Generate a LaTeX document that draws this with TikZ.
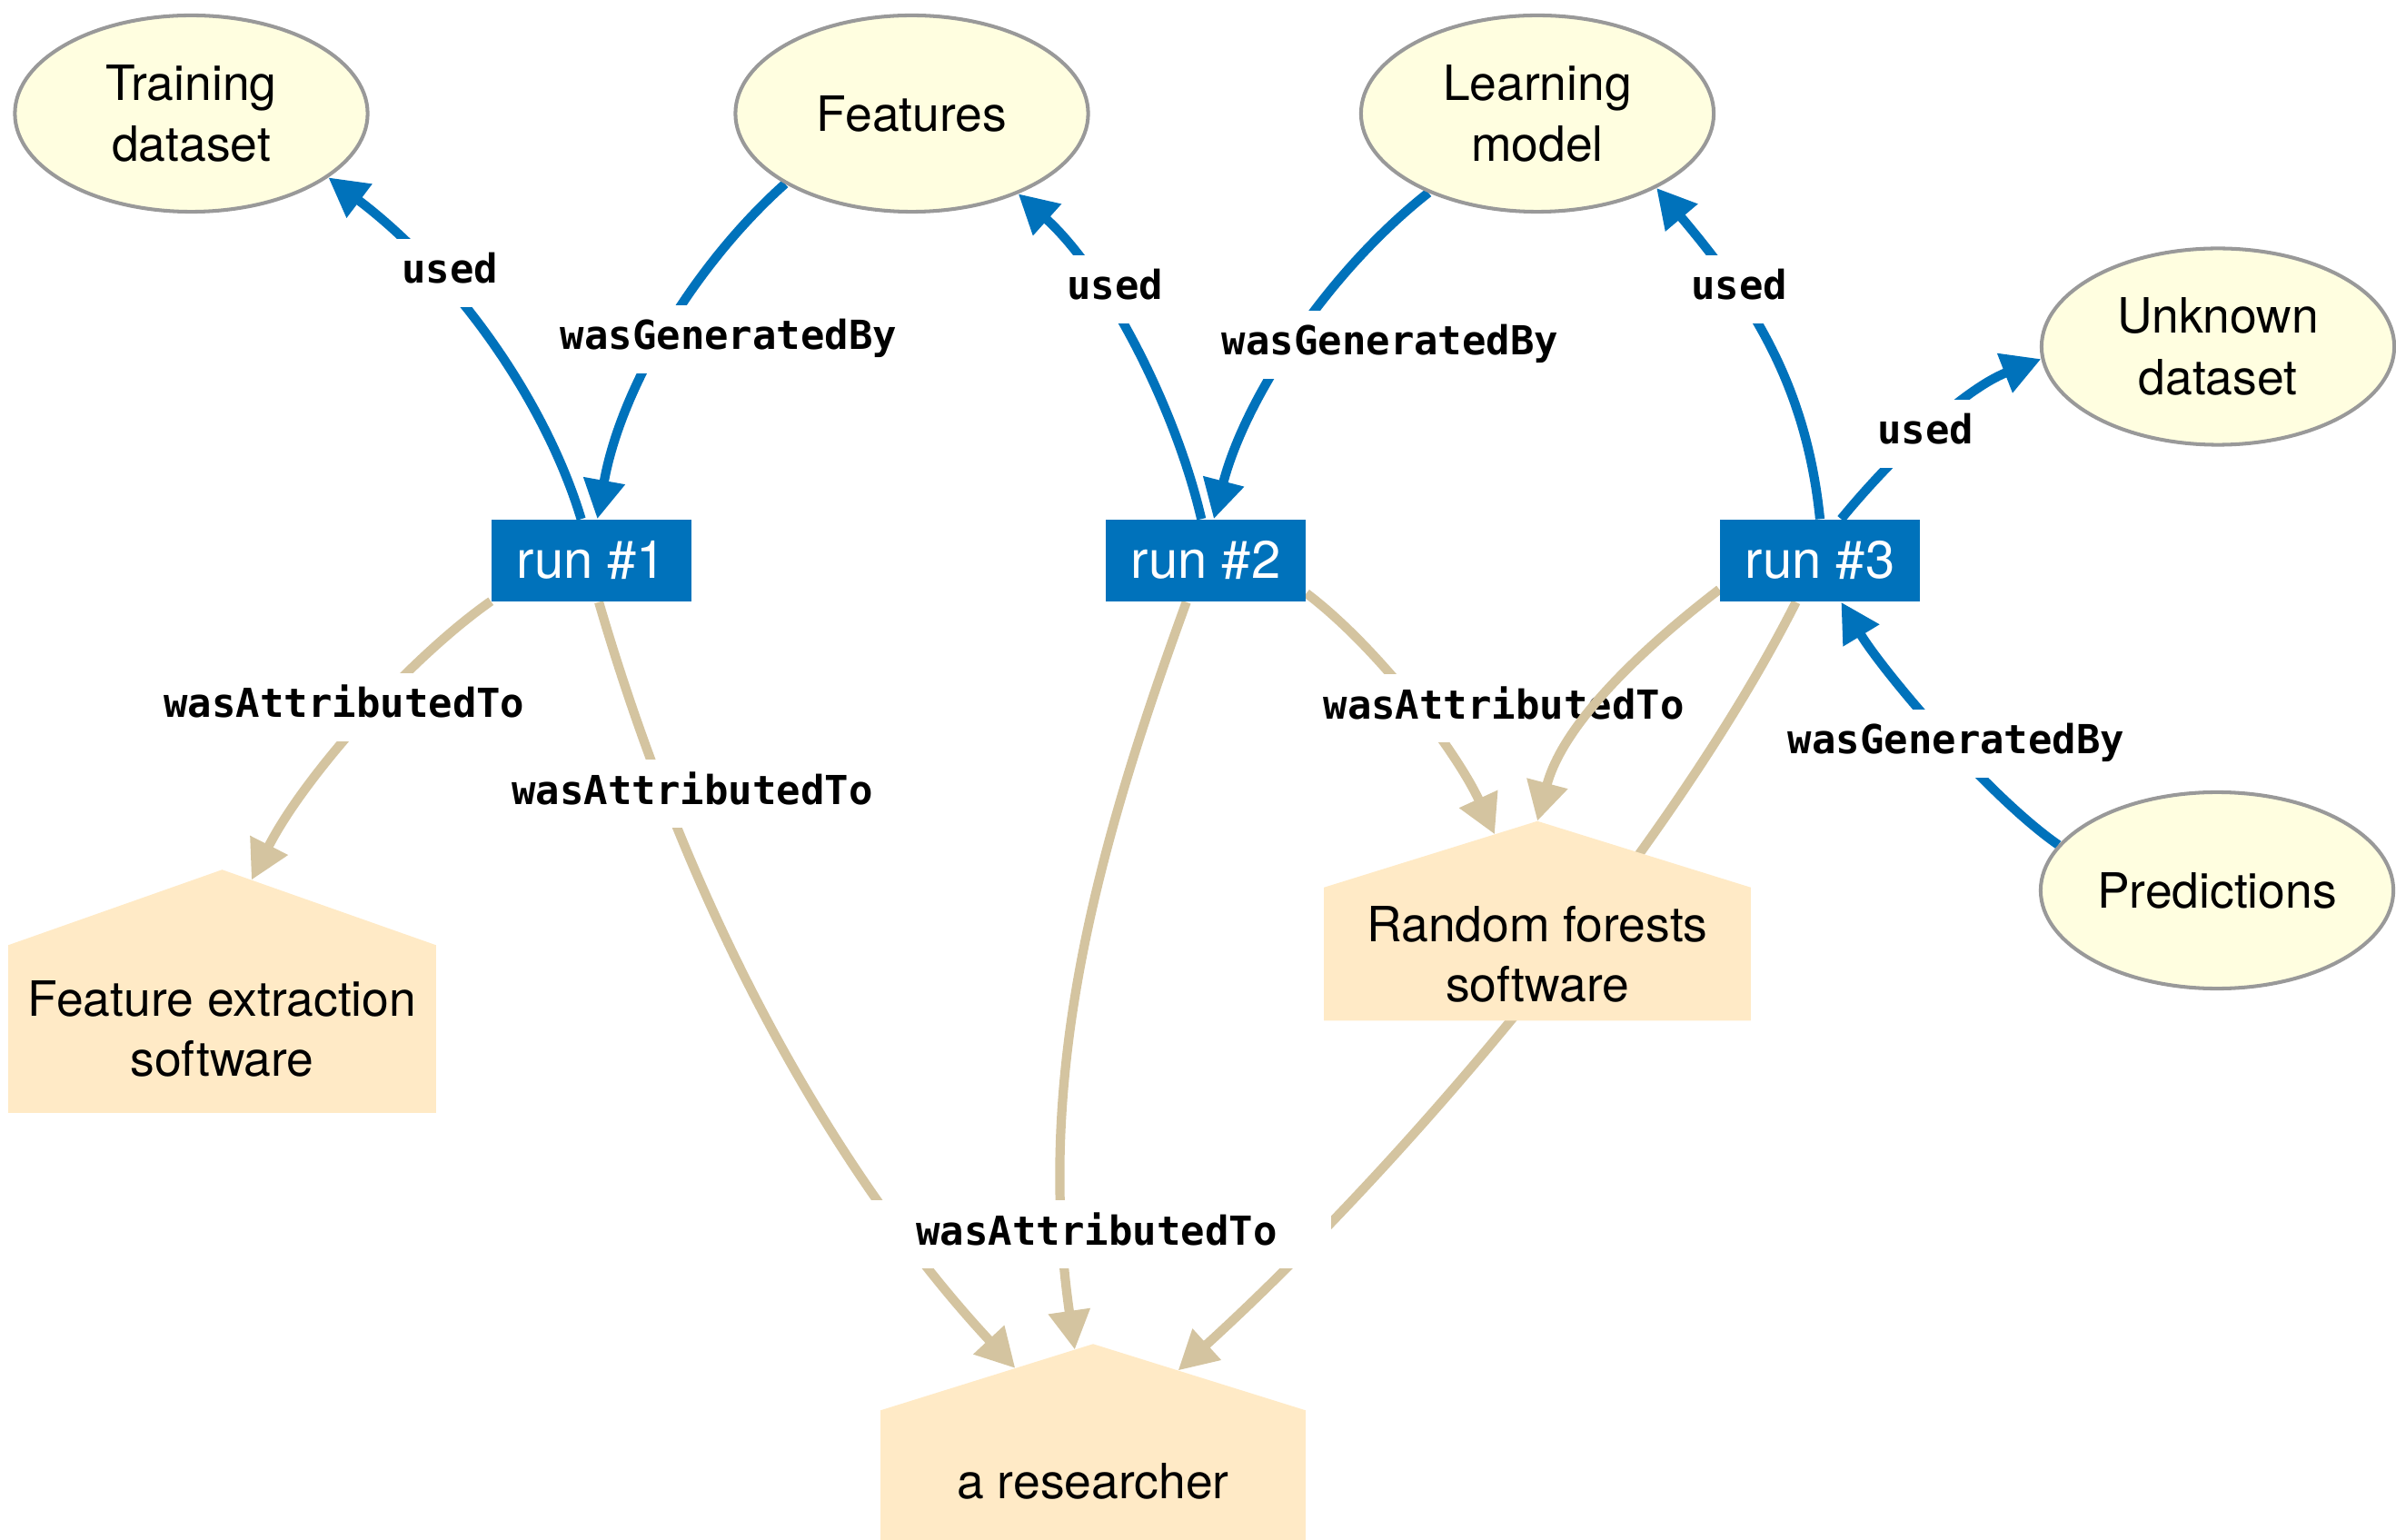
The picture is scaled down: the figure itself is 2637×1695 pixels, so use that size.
\documentclass[tikz,border=0pt]{standalone}
\usepackage{fontspec}
\setmainfont{TeX Gyre Heros}
\newfontfamily\lblfont{DejaVu Sans Mono}
\usetikzlibrary{arrows.meta,shapes.geometric,calc}
\definecolor{provblue}{HTML}{0072BB}
\definecolor{provtan}{HTML}{D4C4A0}
\definecolor{entfill}{HTML}{FFFEE0}
\definecolor{entline}{HTML}{999999}
\definecolor{agentfill}{HTML}{FFEAC6}
\pgfdeclarelayer{edges}
\pgfdeclarelayer{fills}
\pgfsetlayers{edges,fills,main}
\begin{document}
\begin{tikzpicture}[x=0.01cm,y=-0.01cm,
  entity/.style={ellipse, draw=entline, line width=1.15pt, fill=entfill, minimum width=3.88cm, minimum height=2.16cm, inner sep=0pt, align=center, font=\fontsize{15.2}{19.2}\selectfont},
  activity/.style={rectangle, fill=provblue, text=white, minimum width=2.2cm, minimum height=0.9cm, inner sep=0pt, font=\fontsize{16.5}{19}\selectfont},
  agent/.style={rectangle, inner sep=0pt, align=center, font=\fontsize{15.2}{18.8}\selectfont},
  usedge/.style={draw=provblue, line width=2.9pt, -{Triangle[length=12.2pt,width=12.5pt]}},
  attedge/.style={draw=provtan, line width=2.9pt, -{Triangle[length=12.2pt,width=12.5pt]}},
  lbl/.style={fill=white, anchor=base, inner xsep=4pt, inner ysep=4.5pt, text height=9.5pt, text depth=3pt, font=\lblfont\bfseries\fontsize{12.5}{14}\selectfont},
]
\useasboundingbox (0,0) rectangle (2637,1695);

% entities
\node[entity] (train) at (210.5,125) {Training\\dataset};
\node[entity, yshift=-0.02cm] (feat) at (1003.5,123) {Features};
\node[entity] (learn) at (1692,125) {Learning\\model};
\node[entity] (unk) at (2441,381.5) {Unknown\\dataset};
\node[entity] (pred) at (2440,980) {Predictions};
% activities
\node[activity] (run1) at (651,617) {run \#1};
\node[activity] (run2) at (1327,617) {run \#2};
\node[activity] (run3) at (2003,617) {run \#3};
% agents
\node[agent, minimum width=4.69cm, minimum height=1.83cm] (fe) at (244.5,1132.5) {Feature extraction\\software};
\node[agent, minimum width=4.68cm, minimum height=1.45cm] (rf) at (1692,1050) {Random forests\\software};
\node[agent, minimum width=4.66cm, minimum height=1.54cm] (res) at (1203,1630) {a researcher};

\coordinate (feapex) at ($(fe.north)+(0,-83)$);
\coordinate (rfapex) at ($(rf.north)+(0,-73)$);
\coordinate (resapex) at ($(res.north)+(0,-73)$);
\coordinate (fein) at ($(feapex)!0.137!(fe.north east)$);
\coordinate (rfin) at ($(rfapex)!0.2!(rf.north west)$);
\coordinate (resin1) at ($(resapex)!0.366!(res.north west)$);
\coordinate (resin2) at ($(resapex)!0.086!(res.north west)$);
\coordinate (resin3) at ($(resapex)!0.40!(res.north east)$);

\begin{pgfonlayer}{fills}
\fill[agentfill] (fe.south west) -- (fe.north west) -- (feapex) -- (fe.north east) -- (fe.south east) -- cycle;
\fill[agentfill] (rf.south west) -- (rf.north west) -- (rfapex) -- (rf.north east) -- (rf.south east) -- cycle;
\fill[agentfill] (res.south west) -- (res.north west) -- (resapex) -- (res.north east) -- (res.south east) -- cycle;
\end{pgfonlayer}

\begin{pgfonlayer}{edges}
\draw[usedge] (run1.104) .. controls (600,440) and (500,300) .. (train.-25);
\draw[usedge] (feat.209) .. controls (767,289) and (684,423) .. (run1.82);
\draw[usedge] (run2.96) .. controls (1293,446) and (1216,299) .. (feat.-37);
\draw[usedge] (learn.216) .. controls (1463,298) and (1371,436) .. (run2.79);
\draw[usedge] (run3.north) .. controls (1988,424) and (1928,331) .. (learn.-32);
\draw[usedge] (run3.63) .. controls (2083,502) and (2162,428) .. (unk.184);
\draw[usedge] (pred.164) .. controls (2189,877) and (2073,740) .. (run3.-63);
\draw[attedge] (run1.202) .. controls (454,722) and (336,852) .. (fein);
\draw[attedge] (run1.-80) .. controls (799,1142) and (1015,1396) .. (resin1);
\draw[attedge] (run2.-115) .. controls (1203,944) and (1140,1188) .. (resin2);
\draw[attedge] (run3.-120) .. controls (1842,929) and (1555,1273) .. (resin3);
\draw[attedge] (run2.-18) .. controls (1516,712) and (1603,827) .. (rfin);

\node[lbl] (l1) at (495,312) {used};
\node[lbl] (l2) at (802,385) {wasGeneratedBy};
\node[lbl] (l3) at (1227,330) {used};
\node[lbl] (l4) at (1530,391) {wasGeneratedBy};
\node[lbl] (l5) at (1914,330) {used};
\node[lbl] (l6) at (2119,489) {used};
\node[lbl] (l7) at (2153,830) {wasGeneratedBy};
\node[lbl] (l8) at (379,790) {wasAttributedTo};
\node[lbl] (l9) at (762,885) {wasAttributedTo};
\node[lbl, inner xsep=17pt] (l10) at (1207,1370) {wasAttributedTo};
\node[lbl] (l11) at (1655,791) {wasAttributedTo};

\draw[attedge] (run3.196) .. controls (1806,715) and (1720,797) .. (rfapex);
\end{pgfonlayer}
\end{tikzpicture}
\end{document}
